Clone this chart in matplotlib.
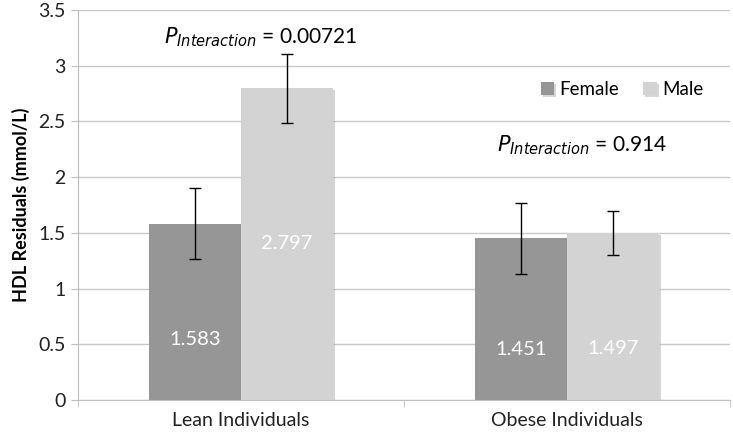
import matplotlib
matplotlib.use("Agg")
import matplotlib.pyplot as plt
import matplotlib.patheffects as pe
import numpy as np

plt.rcParams['font.family'] = ['Lato', 'DejaVu Sans']
plt.rcParams['mathtext.fontset'] = 'dejavusans'

categories = ["Lean Individuals", "Obese Individuals"]
series = ["Female", "Male"]
female_vals = [1.583, 1.451]
male_vals = [2.797, 1.497]
female_err = [0.32, 0.317]
male_err = [0.31, 0.20]
value_labels_female = ["1.583", "1.451"]
value_labels_male = ["2.797", "1.497"]
p_texts = ["0.00721", "0.914"]
yticks = [0, 0.5, 1, 1.5, 2, 2.5, 3, 3.5]
ytick_labels = ["0", "0.5", "1", "1.5", "2", "2.5", "3", "3.5"]

female_color = "#969696"
male_color = "#d3d3d3"

fig = plt.figure(figsize=(7.33, 4.38), dpi=100)
ax = fig.add_axes([0.1064, 0.0868, 0.8896, 0.8904])

x = np.arange(len(categories))
w = 0.283
shadow = [pe.SimplePatchShadow(offset=(1.5, -1), shadow_rgbFace="#bbbbbb", alpha=0.6), pe.Normal()]
ax.bar(x - w/2, female_vals, w, color=female_color, label=series[0], zorder=3, path_effects=shadow)
ax.bar(x + w/2, male_vals, w, color=male_color, label=series[1], zorder=3, path_effects=shadow)
ax.errorbar(x - w/2, female_vals, yerr=female_err, fmt="none", ecolor="black", elinewidth=1, capsize=4.5, capthick=1, zorder=4)
ax.errorbar(x + w/2, male_vals, yerr=male_err, fmt="none", ecolor="black", elinewidth=1, capsize=4.5, capthick=1, zorder=4)

# value labels (white, inside bars)
fem_label_y = [0.54, 0.45]
male_label_y = [1.40, 0.46]
for i in range(len(categories)):
    ax.text(x[i] - w/2, fem_label_y[i], value_labels_female[i], ha="center", va="center", color="white", fontsize=14.5, zorder=5)
    ax.text(x[i] + w/2, male_label_y[i], value_labels_male[i], ha="center", va="center", color="white", fontsize=14.5, zorder=5)

# P interaction annotations
ax.text(0.06, 3.26, r"$\mathit{P}_{\mathit{Interaction}}$" + " = " + p_texts[0], ha="center", va="center", fontsize=15)
ax.text(1.045, 2.29, r"$\mathit{P}_{\mathit{Interaction}}$" + " = " + p_texts[1], ha="center", va="center", fontsize=15)

ax.set_xlim(-0.5, 1.5)
ax.set_ylim(0, 3.5)
ax.set_yticks(yticks)
ax.set_yticklabels(ytick_labels)
ax.set_xticks(x)
ax.set_xticklabels(categories)
ax.tick_params(axis="x", length=0, labelsize=14, pad=9, labelcolor="#222222")
ax.tick_params(axis="y", length=5, color="#bfbfbf", labelsize=14, pad=4, labelcolor="#222222")
ax.set_xticks([-0.5, 0.5, 1.5], minor=True)
ax.tick_params(axis="x", which="minor", length=5, color="#bfbfbf", direction="out")
ax.grid(axis="y", color="#c8c8c8", linewidth=1, zorder=0)
ax.set_axisbelow(True)
for s in ["top", "right"]:
    ax.spines[s].set_visible(False)
ax.spines["left"].set_color("#bfbfbf")
ax.spines["bottom"].set_color("#bfbfbf")

ax.set_ylabel("HDL Residuals (mmol/L)", fontsize=13, fontweight="bold", labelpad=6)

ax.legend(loc="upper right", bbox_to_anchor=(0.985, 0.86), ncol=2, frameon=False, fontsize=13.5,
          handlelength=0.7, handleheight=0.7, handletextpad=0.3, columnspacing=1.3)

fig.savefig("out.png", dpi=100)
